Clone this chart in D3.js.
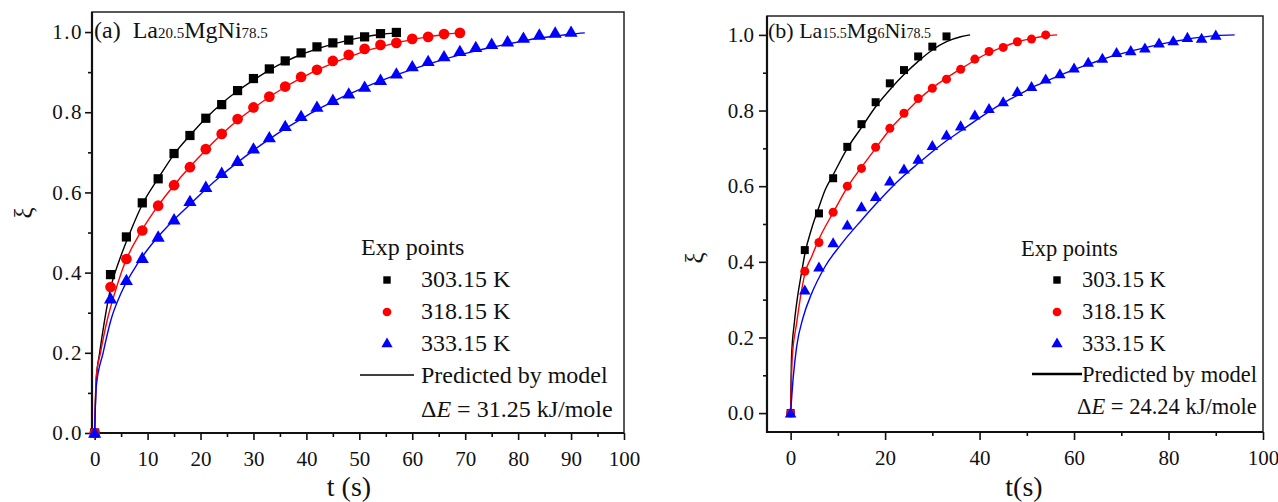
<!DOCTYPE html>
<html lang="en">
<head>
    <meta charset="UTF-8">
    <title>Reacted fraction vs time</title>
    <script src="https://cdn.jsdelivr.net/npm/d3@7"></script>
    <style>
        body { margin: 0; background: #fff; }
        svg text { font-family: "Liberation Serif", "Times New Roman", serif; fill: #111; }
        .tick-label { font-size: 21px; }
        .axis-title { font-size: 28px; }
    </style>
</head>
<body>
    <svg width="1278" height="502" id="chart"></svg>
    <script>
        // ---- panel (a) La20.5MgNi78.5 : experimental points ----
        const a303_t  = [0, 3, 6, 9, 12, 15, 18, 21, 24, 27, 30, 33, 36, 39, 42, 45, 48, 51, 54, 57];
        const a303_xi = [0, 0.395, 0.489, 0.574, 0.634, 0.697, 0.742, 0.785, 0.819, 0.854, 0.884, 0.908, 0.928, 0.948, 0.963, 0.973, 0.980, 0.988, 0.996, 0.999];
        const a318_t  = [0, 3, 6, 9, 12, 15, 18, 21, 24, 27, 30, 33, 36, 39, 42, 45, 48, 51, 54, 57, 60, 63, 66, 69];
        const a318_xi = [0, 0.364, 0.434, 0.505, 0.567, 0.618, 0.663, 0.708, 0.746, 0.783, 0.812, 0.839, 0.864, 0.888, 0.906, 0.928, 0.943, 0.958, 0.968, 0.973, 0.983, 0.988, 0.995, 0.998];
        const a333_t  = [0, 3, 6, 9, 12, 15, 18, 21, 24, 27, 30, 33, 36, 39, 42, 45, 48, 51, 54, 57, 60, 63, 66, 69, 72, 75, 78, 81, 84, 87, 90];
        const a333_xi = [0, 0.335, 0.381, 0.436, 0.489, 0.532, 0.578, 0.613, 0.648, 0.678, 0.709, 0.737, 0.765, 0.790, 0.813, 0.830, 0.846, 0.863, 0.880, 0.896, 0.914, 0.927, 0.939, 0.952, 0.962, 0.970, 0.976, 0.985, 0.993, 0.998, 1.0];

        // panel (a) model curves
        const a303_fit_t  = [0, 0.3, 0.94, 1.9, 3.1, 4.7, 6.9, 9, 12, 15, 18, 21, 24, 27, 30, 33, 36, 39, 42, 45, 48, 51, 54, 57];
        const a303_fit_xi = [0, 0.133, 0.2, 0.283, 0.366, 0.432, 0.507, 0.57, 0.635, 0.695, 0.742, 0.785, 0.822, 0.853, 0.88, 0.905, 0.926, 0.944, 0.958, 0.97, 0.98, 0.988, 0.994, 0.998];
        const a318_fit_t  = [0, 0.3, 1.1, 2.4, 3.8, 5.7, 8.8, 12, 15, 18, 21, 24, 27, 30, 33, 36, 39, 42, 45, 48, 51, 54, 57, 60, 63, 66, 69];
        const a318_fit_xi = [0, 0.14, 0.2, 0.283, 0.349, 0.424, 0.503, 0.567, 0.618, 0.664, 0.706, 0.745, 0.78, 0.81, 0.838, 0.863, 0.885, 0.905, 0.922, 0.938, 0.952, 0.963, 0.973, 0.981, 0.988, 0.994, 0.998];
        const a333_fit_t  = [0, 0.3, 1.6, 3.1, 5, 8.2, 12, 15, 18, 21, 24, 27, 30, 33, 36, 39, 42, 45, 48, 51, 54, 57, 60, 63, 66, 69, 72, 75, 78, 81, 84, 87, 90, 92.6];
        const a333_fit_xi = [0, 0.116, 0.2, 0.283, 0.349, 0.424, 0.49, 0.532, 0.57, 0.608, 0.643, 0.675, 0.705, 0.733, 0.759, 0.783, 0.806, 0.826, 0.845, 0.862, 0.878, 0.893, 0.907, 0.92, 0.932, 0.943, 0.953, 0.962, 0.97, 0.978, 0.985, 0.99, 0.995, 0.998];

        // ---- panel (b) La15.5Mg6Ni78.5 : experimental points ----
        const b303_t  = [0, 3, 6, 9, 12, 15, 18, 21, 24, 27, 30, 33];
        const b303_xi = [0, 0.431, 0.528, 0.621, 0.704, 0.764, 0.822, 0.872, 0.907, 0.943, 0.969, 0.996];
        const b318_t  = [0, 3, 6, 9, 12, 15, 18, 21, 24, 27, 30, 33, 36, 39, 42, 45, 48, 51, 54];
        const b318_xi = [0, 0.375, 0.451, 0.531, 0.600, 0.647, 0.703, 0.753, 0.793, 0.832, 0.859, 0.883, 0.909, 0.936, 0.956, 0.967, 0.982, 0.989, 1.0];
        const b333_t  = [0, 3, 6, 9, 12, 15, 18, 21, 24, 27, 30, 33, 36, 39, 42, 45, 48, 51, 54, 57, 60, 63, 66, 69, 72, 75, 78, 81, 84, 87, 90];
        const b333_xi = [0, 0.325, 0.386, 0.450, 0.497, 0.545, 0.572, 0.613, 0.645, 0.671, 0.707, 0.735, 0.759, 0.788, 0.805, 0.823, 0.850, 0.863, 0.883, 0.897, 0.912, 0.927, 0.938, 0.953, 0.958, 0.965, 0.978, 0.984, 0.993, 0.991, 0.999];

        // panel (b) model curves
        const b303_fit_t  = [0, 0.2, 0.8, 1.5, 2.3, 3, 4.5, 6, 7.3, 9, 12, 15, 18, 21, 24, 27, 30, 33, 36, 38];
        const b303_fit_xi = [0, 0.15, 0.24, 0.31, 0.37, 0.42, 0.49, 0.545, 0.59, 0.63, 0.70, 0.755, 0.81, 0.855, 0.895, 0.93, 0.96, 0.982, 0.995, 1.0];
        const b318_fit_t  = [0, 0.35, 1.27, 2.33, 3, 4.5, 6, 9, 12, 15, 18, 21, 24, 27, 30, 33, 36, 39, 42, 45, 48, 51, 54, 56.4];
        const b318_fit_xi = [0, 0.148, 0.237, 0.325, 0.368, 0.415, 0.46, 0.53, 0.597, 0.65, 0.70, 0.75, 0.79, 0.828, 0.86, 0.886, 0.91, 0.933, 0.953, 0.968, 0.982, 0.99, 0.997, 1.0];
        const b333_fit_t  = [0, 0.56, 1.27, 2.67, 4.45, 7.27, 10.8, 15, 18, 21, 24, 27, 30, 33, 36, 39, 42, 45, 48, 51, 54, 57, 60, 63, 66, 69, 72, 75, 78, 81, 84, 87, 90, 94];
        const b333_fit_xi = [0, 0.095, 0.175, 0.254, 0.316, 0.387, 0.448, 0.51, 0.552, 0.592, 0.628, 0.66, 0.691, 0.72, 0.746, 0.772, 0.797, 0.82, 0.84, 0.86, 0.877, 0.893, 0.908, 0.922, 0.935, 0.947, 0.957, 0.966, 0.975, 0.982, 0.989, 0.994, 0.998, 1.0];

        // legend / tick text
        const legendLabels = ["303.15 K", "318.15 K", "333.15 K"];
        const seriesColors = ["#000000", "#ff0000", "#0000ff"];
        const yTicks = [0.0, 0.2, 0.4, 0.6, 0.8, 1.0];
        const yMinor = [0.1, 0.3, 0.5, 0.7, 0.9];
        const aXTicks = [0, 10, 20, 30, 40, 50, 60, 70, 80, 90, 100];
        const aXMinor = [5, 15, 25, 35, 45, 55, 65, 75, 85, 95];
        const bXTicks = [0, 20, 40, 60, 80, 100];
        const bXMinor = [10, 30, 50, 70, 90];

        const serif = "'Liberation Serif', 'Times New Roman', serif";
        const svg = d3.select("#chart");
        const zip = (t, xi) => t.map((v, i) => ({t: v, xi: xi[i]}));

        const symbols = [d3.symbolSquare, d3.symbolCircle, d3.symbolTriangle];

        function drawPanel(p) {
            const x = d3.scaleLinear().domain(p.xDomain).range([p.left, p.right]);
            const y = d3.scaleLinear().domain(p.yDomain).range([p.bottom, p.top]);
            const g = svg.append("g");

            // major + minor ticks
            g.append("g").attr("transform", `translate(0,${p.bottom})`)
                .call(d3.axisBottom(x).tickValues(p.xTicks).tickSize(p.majorLen).tickSizeOuter(0)
                    .tickPadding(p.xPad).tickFormat(d3.format("d")));
            g.append("g").attr("transform", `translate(0,${p.bottom})`)
                .call(d3.axisBottom(x).tickValues(p.xMinor).tickSize(p.minorLen).tickFormat(""));
            const yAxisG = g.append("g").attr("transform", `translate(${p.left},0)`)
                .call(d3.axisLeft(y).tickValues(yTicks).tickSize(p.majorLen).tickSizeOuter(0)
                    .tickPadding(p.yPad).tickFormat(d3.format(".1f")));
            g.append("g").attr("transform", `translate(${p.left},0)`)
                .call(d3.axisLeft(y).tickValues(yMinor).tickSize(p.minorLen).tickFormat(""));
            g.selectAll(".domain").remove();
            g.selectAll("g").attr("font-family", serif).attr("font-size", 21);
            g.selectAll(".tick line").attr("stroke", "#111").attr("stroke-width", 1.6);
            g.selectAll(".tick text").attr("class", "tick-label").attr("fill", "#111");
            yAxisG.selectAll(".tick text").attr("letter-spacing", p.ySpacing);

            // frame
            g.append("rect")
                .attr("x", p.left).attr("y", p.top)
                .attr("width", p.right - p.left).attr("height", p.bottom - p.top)
                .attr("fill", "none").attr("stroke", "#222").attr("stroke-width", 1.5);
            g.append("path")
                .attr("d", `M${p.left},${p.top}V${p.bottom}H${p.right}`)
                .attr("fill", "none").attr("stroke", "#111").attr("stroke-width", 2.2);

            // model curves
            const line = d3.line().x(d => x(d.t)).y(d => y(d.xi)).curve(d3.curveMonotoneX);
            p.fits.forEach((f, i) => {
                g.append("path").datum(f)
                    .attr("d", line)
                    .attr("fill", "none")
                    .attr("stroke", seriesColors[i])
                    .attr("stroke-width", 1.4);
            });

            // experimental points
            p.points.forEach((pts, i) => {
                g.selectAll(null).data(pts).enter().append("path")
                    .attr("transform", d => `translate(${x(d.t)},${y(d.xi) + (i === 2 ? 1 : 0)})`)
                    .attr("d", d3.symbol().type(symbols[i]).size(p.symSize[i]))
                    .attr("fill", seriesColors[i]);
            });

            // panel label
            const title = g.append("text").attr("x", p.title.x).attr("y", p.title.y)
                .attr("font-size", p.title.size);
            p.title.parts.forEach(part => {
                title.append("tspan").attr("font-size", part[1] ? p.title.sub : p.title.size).text(part[0]);
            });

            // legend
            const L = p.legend;
            const legText = (tx, ty) => g.append("text").attr("font-size", L.fontSize).attr("x", tx).attr("y", ty);
            legText(L.headX, L.rowY[0]).text("Exp points");
            legendLabels.forEach((lab, i) => {
                g.append("path")
                    .attr("transform", `translate(${L.markX},${L.rowY[i + 1] - 7})`)
                    .attr("d", d3.symbol().type(symbols[i]).size(L.symSize[i]))
                    .attr("fill", seriesColors[i]);
                legText(L.textX, L.rowY[i + 1]).text(lab);
            });
            g.append("line")
                .attr("x1", L.lineX[0]).attr("x2", L.lineX[1])
                .attr("y1", L.rowY[4] - 8).attr("y2", L.rowY[4] - 8)
                .attr("stroke", "#000").attr("stroke-width", L.lineW);
            legText(L.textX, L.rowY[4]).text("Predicted by model");
            const dE = legText(L.dEx, L.rowY[5]);
            dE.append("tspan").text("\u0394");
            dE.append("tspan").attr("font-style", "italic").text("E");
            dE.append("tspan").text(" = " + L.energy + " kJ/mole");

            // axis titles
            g.append("text").attr("class", "axis-title").attr("text-anchor", "middle")
                .attr("x", p.xTitle.x).attr("y", p.xTitle.y).text(p.xTitle.text);
            g.append("text").attr("font-size", 25)
                .attr("text-anchor", "middle")
                .attr("transform", `translate(${p.yTitle.x},${p.yTitle.y}) rotate(-90)`)
                .text("\u03be");
        }

        drawPanel({
            left: 92, right: 624, top: 12, bottom: 433,
            xDomain: [-0.5, 100], yDomain: [0, 1.05],
            xTicks: aXTicks, xMinor: aXMinor,
            majorLen: 7, minorLen: 4, xPad: 11, yPad: 2, ySpacing: 1.5,
            fits: [zip(a303_fit_t, a303_fit_xi), zip(a318_fit_t, a318_fit_xi), zip(a333_fit_t, a333_fit_xi)],
            points: [zip(a303_t, a303_xi), zip(a318_t, a318_xi), zip(a333_t, a333_xi)],
            symSize: [85, 90, 75],
            title: {x: 94, y: 38, size: 24, sub: 15,
                    parts: [["(a)\u00a0\u00a0La", false], ["20.5", true], ["MgNi", false], ["78.5", true]]},
            legend: {headX: 361, markX: 387, textX: 421, rowY: [255, 287, 319, 351, 383, 417], fontSize: 24,
                     symSize: [55, 60, 55], lineX: [360, 414], lineW: 1.5, dEx: 421, energy: "31.25"},
            xTitle: {x: 349, y: 496, text: "t (s)"},
            yTitle: {x: 32, y: 213}
        });

        drawPanel({
            left: 767, right: 1263, top: 16, bottom: 432,
            xDomain: [-5, 100], yDomain: [-0.05, 1.05],
            xTicks: bXTicks, xMinor: bXMinor,
            majorLen: 8, minorLen: 4, xPad: 10, yPad: 5, ySpacing: 0,
            fits: [zip(b303_fit_t, b303_fit_xi), zip(b318_fit_t, b318_fit_xi), zip(b333_fit_t, b333_fit_xi)],
            points: [zip(b303_t, b303_xi), zip(b318_t, b318_xi), zip(b333_t, b333_xi)],
            symSize: [64, 64, 58],
            title: {x: 768, y: 38, size: 22, sub: 14,
                    parts: [["(b) La", false], ["15.5", true], ["Mg", false], ["6", true], ["Ni", false], ["78.5", true]]},
            legend: {headX: 1021, markX: 1057, textX: 1082, rowY: [256, 287, 319, 351, 382, 414], fontSize: 22.5,
                     symSize: [55, 60, 55], lineX: [1032, 1082], lineW: 2.5, dEx: 1077, energy: "24.24"},
            xTitle: {x: 1024, y: 496, text: "t(s)"},
            yTitle: {x: 703, y: 258}
        });
    </script>
</body>
</html>
